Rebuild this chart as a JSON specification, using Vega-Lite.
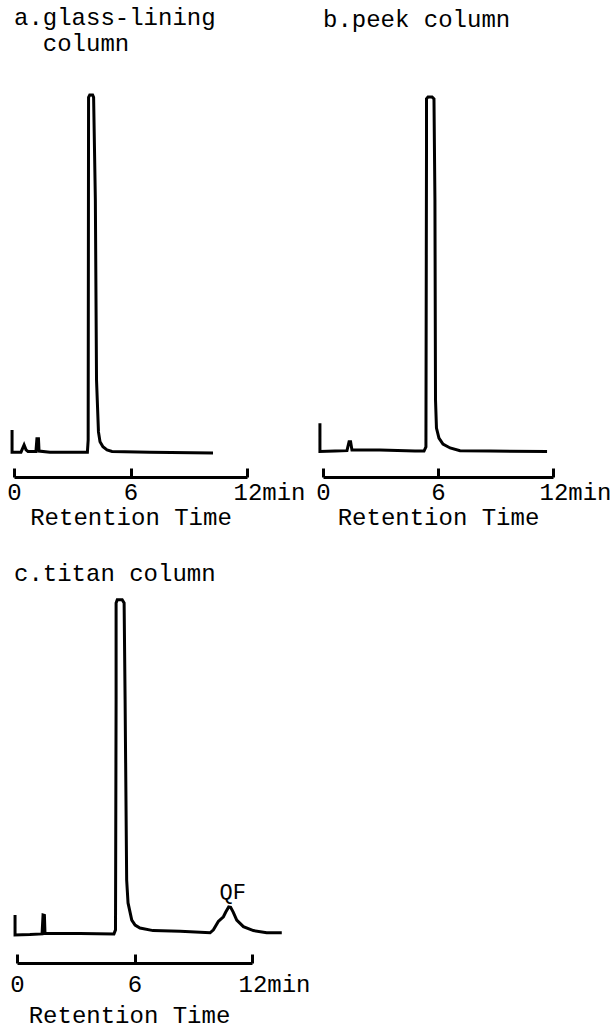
{
  "$schema": "https://vega.github.io/schema/vega-lite/v6.json",
  "autosize": {"type": "none"},
  "padding": {"left": 14, "top": 95, "right": 602, "bottom": 935},
  "background": "white",
  "columns": 2,
  "bounds": "flush",
  "spacing": {"row": 122, "column": 71},
  "config": {
    "view": {"stroke": null},
    "axis": {
      "domainColor": "black", "domainWidth": 3,
      "tickColor": "black", "tickWidth": 3, "tickSize": -9,
      "labelFont": "Liberation Mono", "labelFontSize": 24, "labelColor": "black", "labelPadding": 12,
      "titleFont": "Liberation Mono", "titleFontSize": 24, "titleFontWeight": "normal", "titleColor": "black", "titlePadding": 1,
      "grid": false, "labelFlush": false, "labelOverlap": false, "labelBound": false
    },
    "title": {"font": "Liberation Mono", "fontSize": 24, "fontWeight": "normal", "color": "black", "anchor": "start", "frame": "group", "baseline": "alphabetic", "lineHeight": 26}
  },
  "datasets": {
    "a": [
      {"i": 0, "t": -0.10, "v": 12.3},
      {"i": 1, "t": -0.10, "v": 6.5},
      {"i": 2, "t": 0.36, "v": 6.5},
      {"i": 3, "t": 0.52, "v": 8.4},
      {"i": 4, "t": 0.62, "v": 7.1},
      {"i": 5, "t": 0.72, "v": 6.7},
      {"i": 6, "t": 1.13, "v": 6.7},
      {"i": 7, "t": 1.18, "v": 10.0},
      {"i": 8, "t": 1.26, "v": 10.0},
      {"i": 9, "t": 1.29, "v": 6.8},
      {"i": 10, "t": 1.85, "v": 6.5},
      {"i": 11, "t": 3.78, "v": 6.5},
      {"i": 12, "t": 3.82, "v": 9.7},
      {"i": 13, "t": 3.84, "v": 99.4},
      {"i": 14, "t": 3.90, "v": 100},
      {"i": 15, "t": 4.05, "v": 100},
      {"i": 16, "t": 4.10, "v": 99.4},
      {"i": 17, "t": 4.19, "v": 72.5},
      {"i": 18, "t": 4.25, "v": 25.4},
      {"i": 19, "t": 4.35, "v": 11.8},
      {"i": 20, "t": 4.43, "v": 9.2},
      {"i": 21, "t": 4.58, "v": 7.9},
      {"i": 22, "t": 4.79, "v": 7.1},
      {"i": 23, "t": 5.05, "v": 6.7},
      {"i": 24, "t": 7.00, "v": 6.5},
      {"i": 25, "t": 10.25, "v": 6.3}
    ],
    "b": [
      {"i": 0, "t": -0.16, "v": 14.1},
      {"i": 1, "t": -0.16, "v": 6.7},
      {"i": 2, "t": 0.63, "v": 6.8},
      {"i": 3, "t": 1.25, "v": 6.9},
      {"i": 4, "t": 1.36, "v": 9.2},
      {"i": 5, "t": 1.44, "v": 9.2},
      {"i": 6, "t": 1.51, "v": 7.1},
      {"i": 7, "t": 2.97, "v": 7.1},
      {"i": 8, "t": 4.80, "v": 6.8},
      {"i": 9, "t": 5.27, "v": 6.8},
      {"i": 10, "t": 5.37, "v": 7.9},
      {"i": 11, "t": 5.40, "v": 85.6},
      {"i": 12, "t": 5.40, "v": 99.0},
      {"i": 13, "t": 5.48, "v": 99.5},
      {"i": 14, "t": 5.69, "v": 99.5},
      {"i": 15, "t": 5.79, "v": 99.0},
      {"i": 16, "t": 5.84, "v": 72.5},
      {"i": 17, "t": 5.87, "v": 20.2},
      {"i": 18, "t": 5.92, "v": 12.8},
      {"i": 19, "t": 6.05, "v": 10.2},
      {"i": 20, "t": 6.26, "v": 8.6},
      {"i": 21, "t": 6.63, "v": 7.6},
      {"i": 22, "t": 7.15, "v": 6.9},
      {"i": 23, "t": 8.71, "v": 6.8},
      {"i": 24, "t": 11.69, "v": 6.7}
    ],
    "c": [
      {"i": 0, "t": -0.10, "v": 13.2},
      {"i": 1, "t": -0.10, "v": 7.7},
      {"i": 2, "t": 0.66, "v": 7.8},
      {"i": 3, "t": 1.28, "v": 8.0},
      {"i": 4, "t": 1.33, "v": 13.2},
      {"i": 5, "t": 1.40, "v": 13.1},
      {"i": 6, "t": 1.43, "v": 8.1},
      {"i": 7, "t": 3.22, "v": 8.1},
      {"i": 8, "t": 4.95, "v": 8.0},
      {"i": 9, "t": 5.03, "v": 9.1},
      {"i": 10, "t": 5.06, "v": 72.3},
      {"i": 11, "t": 5.06, "v": 98.9},
      {"i": 12, "t": 5.12, "v": 99.8},
      {"i": 13, "t": 5.37, "v": 99.8},
      {"i": 14, "t": 5.47, "v": 98.9},
      {"i": 15, "t": 5.52, "v": 72.3},
      {"i": 16, "t": 5.60, "v": 22.8},
      {"i": 17, "t": 5.67, "v": 16.5},
      {"i": 18, "t": 5.86, "v": 11.8},
      {"i": 19, "t": 6.03, "v": 10.4},
      {"i": 20, "t": 6.28, "v": 9.6},
      {"i": 21, "t": 6.95, "v": 8.9},
      {"i": 22, "t": 8.33, "v": 8.7},
      {"i": 23, "t": 9.86, "v": 8.3},
      {"i": 24, "t": 10.03, "v": 9.1},
      {"i": 25, "t": 10.28, "v": 11.4},
      {"i": 26, "t": 10.54, "v": 12.7},
      {"i": 27, "t": 10.66, "v": 14.0},
      {"i": 28, "t": 10.81, "v": 15.4},
      {"i": 29, "t": 10.91, "v": 15.3},
      {"i": 30, "t": 11.04, "v": 14.0},
      {"i": 31, "t": 11.22, "v": 11.8},
      {"i": 32, "t": 11.56, "v": 10.0},
      {"i": 33, "t": 12.07, "v": 8.9},
      {"i": 34, "t": 12.75, "v": 8.3},
      {"i": 35, "t": 13.52, "v": 8.3}
    ],
    "qf": [
      {"t": 10.86, "v": 15.4, "label": "QF"}
    ]
  },
  "concat": [
    {
      "title": {"text": ["a.glass-lining", "\u200b\u00a0\u00a0column"], "offset": 33},
      "width": 233,
      "height": 382,
      "data": {"name": "a"},
      "mark": {"type": "line", "color": "black", "strokeWidth": 3, "clip": false},
      "encoding": {
        "x": {
          "field": "t", "type": "quantitative",
          "scale": {"domain": [0, 12], "nice": false, "zero": false},
          "axis": {
            "values": [0, 6, 12],
            "title": "Retention Time",
            "labelExpr": "datum.value == 12 ? '12min' : datum.label",
            "labelAlign": {"condition": {"test": "datum.value == 12", "value": "left"}, "value": "center"},
            "labelOffset": {"condition": {"test": "datum.value == 12", "value": -14}, "value": 0}
          }
        },
        "y": {"field": "v", "type": "quantitative", "scale": {"domain": [0, 100], "nice": false}, "axis": null},
        "order": {"field": "i"}
      }
    },
    {
      "title": {"text": "b.peek column", "offset": 59},
      "width": 230,
      "height": 382,
      "data": {"name": "b"},
      "mark": {"type": "line", "color": "black", "strokeWidth": 3, "clip": false},
      "encoding": {
        "x": {
          "field": "t", "type": "quantitative",
          "scale": {"domain": [0, 12], "nice": false, "zero": false},
          "axis": {
            "values": [0, 6, 12],
            "title": "Retention Time",
            "labelExpr": "datum.value == 12 ? '12min' : datum.label",
            "labelAlign": {"condition": {"test": "datum.value == 12", "value": "left"}, "value": "center"},
            "labelOffset": {"condition": {"test": "datum.value == 12", "value": -14}, "value": 0}
          }
        },
        "y": {"field": "v", "type": "quantitative", "scale": {"domain": [0, 100], "nice": false}, "axis": null},
        "order": {"field": "i"}
      }
    },
    {
      "title": {"text": "c.titan column", "offset": 8},
      "width": 238,
      "height": 364,
      "layer": [
        {
          "data": {"name": "c"},
          "mark": {"type": "line", "color": "black", "strokeWidth": 3, "clip": false},
          "encoding": {
            "x": {
              "field": "t", "type": "quantitative",
              "scale": {"domain": [0, 12], "range": [3, 238], "nice": false, "zero": false},
              "axis": {
                "values": [0, 6, 12],
                "title": "Retention Time",
                "titleX": 115,
                "titlePadding": 7,
                "labelPadding": 18,
                "labelExpr": "datum.value == 12 ? '12min' : datum.label",
                "labelAlign": {"condition": {"test": "datum.value == 12", "value": "left"}, "value": "center"},
                "labelOffset": {"condition": {"test": "datum.value == 12", "value": -14}, "value": 0}
              }
            },
            "y": {"field": "v", "type": "quantitative", "scale": {"domain": [0, 100], "nice": false}, "axis": null},
            "order": {"field": "i"}
          }
        },
        {
          "data": {"name": "qf"},
          "mark": {"type": "text", "font": "Liberation Mono", "fontSize": 22, "color": "black", "baseline": "alphabetic", "dy": -8, "dx": 3},
          "encoding": {
            "x": {"field": "t", "type": "quantitative"},
            "y": {"field": "v", "type": "quantitative"},
            "text": {"field": "label"}
          }
        }
      ]
    }
  ]
}
